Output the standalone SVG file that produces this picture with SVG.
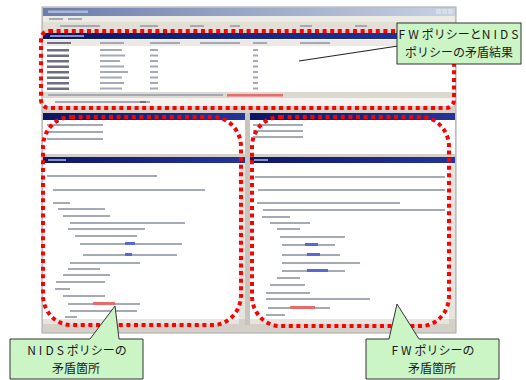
<svg xmlns="http://www.w3.org/2000/svg" width="526" height="380" viewBox="0 0 526 380">
<style>
.t{fill:#a4a9b6}
.d{fill:#6c7080}
.b{fill:#5a66d8}
.r{fill:#e86a6a}
.navy{fill:url(#navy)}
.hl{fill:none;stroke:#ff0000;stroke-width:4;stroke-dasharray:4 3.6}
.co{fill:#ccf5c6;stroke:#333;stroke-width:1}
.lbl{font-family:"Noto Sans CJK JP","Noto Sans",sans-serif;font-size:12px;fill:#1a1a1a;text-anchor:middle}
.sp{letter-spacing:3px}
</style>
<defs>
<linearGradient id="navy" x1="0" y1="0" x2="1" y2="0"><stop offset="0" stop-color="#0c1668"/><stop offset="1" stop-color="#24349a"/></linearGradient>
<linearGradient id="title" x1="0" y1="0" x2="1" y2="0"><stop offset="0" stop-color="#6a7cac"/><stop offset="1" stop-color="#c8d2e4"/></linearGradient>
</defs>
<rect width="526" height="380" fill="#fff"/>
<g id="screenshot">
<rect x="42" y="7" width="414" height="326" fill="#d4d0c8" stroke="#a8a8a8"/>
<rect x="43" y="8" width="412" height="8" fill="url(#title)"/>
<rect x="48" y="10.5" width="40" height="2.5" fill="#c8d0e4" opacity="0.7"/>
<rect x="436" y="9" width="5" height="5" fill="#d8dde8"/><rect x="442" y="9" width="5" height="5" fill="#d8dde8"/><rect x="448" y="9" width="5" height="5" fill="#d8dde8"/>
<rect x="43" y="16" width="412" height="6" fill="#ecebe4"/>
<rect x="49" y="18" width="14" height="2" class="t"/><rect x="68" y="18" width="14" height="2" class="t"/>
<rect x="43" y="22" width="412" height="8" fill="#e2dfd6"/>
<rect x="60" y="25" width="40" height="2" class="t"/><rect x="140" y="25" width="18" height="2" class="t"/><rect x="190" y="25" width="14" height="2" class="t"/><rect x="230" y="25" width="10" height="2" class="t"/><rect x="300" y="25" width="12" height="2" class="t"/><rect x="355" y="25" width="12" height="2" class="t"/>
<rect x="43" y="33" width="412" height="6" class="navy"/>
<rect x="50" y="35" width="34" height="2" fill="#8890c8"/>
<rect x="43" y="39" width="412" height="53" fill="#fff"/>
<rect x="43" y="40" width="412" height="6" fill="#ece9e2"/>
<rect x="47" y="42" width="24" height="2" class="d"/><rect x="100" y="42" width="24" height="2" class="t"/><rect x="150" y="42" width="30" height="2" class="t"/><rect x="200" y="42" width="40" height="2" class="t"/><rect x="253" y="42" width="14" height="2" class="t"/><rect x="300" y="42" width="30" height="2" class="t"/>
<g id="rows">
<rect x="47" y="49" width="22" height="2.5" class="d"/><rect x="100" y="49" width="22" height="2" class="t"/><rect x="150" y="49" width="8" height="2" class="t"/><rect x="253" y="49" width="5" height="2" class="t"/>
<rect x="47" y="54.5" width="22" height="2.5" class="d"/><rect x="100" y="54.5" width="25" height="2" class="t"/><rect x="150" y="54.5" width="8" height="2" class="t"/><rect x="253" y="54.5" width="5" height="2" class="t"/>
<rect x="47" y="60" width="22" height="2.5" class="d"/><rect x="100" y="60" width="20" height="2" class="t"/><rect x="150" y="60" width="8" height="2" class="t"/><rect x="253" y="60" width="5" height="2" class="t"/>
<rect x="47" y="65.5" width="22" height="2.5" class="d"/><rect x="100" y="65.5" width="24" height="2" class="t"/><rect x="150" y="65.5" width="8" height="2" class="t"/><rect x="253" y="65.5" width="5" height="2" class="t"/>
<rect x="47" y="71" width="22" height="2.5" class="d"/><rect x="100" y="71" width="28" height="2" class="t"/><rect x="150" y="71" width="8" height="2" class="t"/><rect x="253" y="71" width="5" height="2" class="t"/>
<rect x="47" y="76.5" width="22" height="2.5" class="d"/><rect x="100" y="76.5" width="22" height="2" class="t"/><rect x="150" y="76.5" width="8" height="2" class="t"/><rect x="253" y="76.5" width="5" height="2" class="t"/>
<rect x="47" y="82" width="22" height="2.5" class="d"/><rect x="100" y="82" width="24" height="2" class="t"/><rect x="150" y="82" width="8" height="2" class="t"/><rect x="253" y="82" width="5" height="2" class="t"/>
<rect x="47" y="87.5" width="22" height="2.5" class="d"/><rect x="100" y="87.5" width="22" height="2" class="t"/><rect x="150" y="87.5" width="8" height="2" class="t"/><rect x="253" y="87.5" width="5" height="2" class="t"/>
</g>
<rect x="43" y="92" width="412" height="6" fill="#dcd9d0"/>
<rect x="48" y="94" width="175" height="2" class="t"/><rect x="227" y="94" width="56" height="2.5" class="r"/>
<rect x="43" y="98" width="412" height="8" fill="#f4f3ef"/>
<rect x="55" y="101" width="95" height="2" class="t"/><rect x="140" y="101" width="6" height="2" class="d"/>
<rect x="43" y="113" width="202" height="7" class="navy"/>
<rect x="250" y="113" width="205" height="7" class="navy"/>
<rect x="245" y="113" width="5" height="212" fill="#c8c5bc"/>
<rect x="43" y="120" width="202" height="34" fill="#fff"/>
<rect x="250" y="120" width="205" height="34" fill="#fff"/>
<rect x="47" y="124" width="56" height="2" class="t"/><rect x="47" y="131" width="56" height="2" class="t"/><rect x="47" y="138" width="56" height="2" class="t"/>
<rect x="253" y="124" width="50" height="2" class="t"/><rect x="253" y="130" width="50" height="2" class="t"/><rect x="253" y="136" width="50" height="2" class="t"/>
<rect x="43" y="157" width="202" height="6" class="navy"/>
<rect x="250" y="157" width="205" height="6" class="navy"/>
<rect x="48" y="159" width="18" height="2" fill="#8890c8"/><rect x="254" y="159" width="14" height="2" fill="#8890c8"/>
<rect x="43" y="163" width="196" height="156" fill="#fff"/>
<rect x="250" y="163" width="199" height="156" fill="#fff"/>
<rect x="239" y="163" width="6" height="156" fill="#e6e4de"/>
<rect x="449" y="163" width="6" height="156" fill="#e6e4de"/>
<rect x="43" y="319" width="196" height="5" fill="#e6e4de"/>
<rect x="250" y="319" width="199" height="5" fill="#e6e4de"/>
<g id="code-left">
<rect x="47" y="175" width="110" height="2" class="t"/>
<rect x="53" y="189" width="152" height="2" class="t"/>
<rect x="53" y="202" width="17" height="2" class="t"/>
<rect x="58" y="208" width="47" height="2" class="t"/>
<rect x="63" y="215" width="47" height="2" class="t"/>
<rect x="70" y="222" width="115" height="2" class="t"/>
<rect x="68" y="228" width="77" height="2" class="t"/>
<rect x="75" y="235" width="62" height="2" class="t"/>
<rect x="80" y="243" width="102" height="2" class="t"/><rect x="125" y="242" width="10" height="3" class="b"/>
<rect x="83" y="254" width="94" height="2" class="t"/><rect x="125" y="253" width="7" height="3" class="b"/>
<rect x="70" y="262" width="70" height="2" class="t"/>
<rect x="68" y="268" width="32" height="2" class="t"/>
<rect x="63" y="274" width="47" height="2" class="t"/>
<rect x="56" y="281" width="49" height="2" class="t"/>
<rect x="55" y="288" width="15" height="2" class="t"/>
<rect x="63" y="295" width="42" height="2" class="t"/>
<rect x="68" y="303" width="72" height="2" class="t"/><rect x="93" y="302" width="22" height="3" class="r"/>
<rect x="70" y="310" width="67" height="2" class="t"/>
<rect x="65" y="316" width="12" height="2" class="t"/>
</g>
<g id="code-right">
<rect x="255" y="176" width="190" height="2" class="t"/>
<rect x="258" y="189" width="187" height="2" class="t"/>
<rect x="257" y="202" width="143" height="2" class="t"/>
<rect x="263" y="209" width="182" height="2" class="t"/>
<rect x="262" y="216" width="28" height="2" class="t"/>
<rect x="270" y="222" width="40" height="2" class="t"/>
<rect x="277" y="228" width="23" height="2" class="t"/>
<rect x="280" y="236" width="65" height="2" class="t"/>
<rect x="282" y="244" width="53" height="2" class="t"/><rect x="305" y="243" width="13" height="3" class="b"/>
<rect x="282" y="254" width="58" height="2" class="t"/><rect x="307" y="253" width="13" height="3" class="b"/>
<rect x="282" y="262" width="78" height="2" class="t"/>
<rect x="282" y="270" width="63" height="2" class="t"/><rect x="307" y="269" width="21" height="3" class="b"/>
<rect x="277" y="277" width="23" height="2" class="t"/>
<rect x="270" y="284" width="35" height="2" class="t"/>
<rect x="266" y="292" width="44" height="2" class="t"/>
<rect x="266" y="298" width="104" height="2" class="t"/>
<rect x="268" y="307" width="62" height="2" class="t"/><rect x="290" y="306" width="25" height="3" class="r"/>
<rect x="266" y="314" width="19" height="2" class="t"/>
</g>
<rect x="43" y="325" width="412" height="7" fill="#d4d0c8"/>
</g>
<g id="highlights">
<rect id="hl-result" class="hl" x="41" y="31" width="413" height="77" rx="8"/>
<rect id="hl-nids" class="hl" x="43" y="117" width="198" height="208" rx="28" ry="30"/>
<rect id="hl-fw" class="hl" x="252" y="117" width="197" height="209" rx="28" ry="30"/>
</g>
<g id="connectors">
<line x1="398" y1="46" x2="299" y2="61" stroke="#222" stroke-width="1.2"/>
</g>
<g id="callout-result">
<rect class="co" x="397" y="23" width="124" height="41"/>
<text class="lbl" x="460" y="39"><tspan class="sp">FW</tspan>ポリシーと<tspan class="sp">NIDS</tspan></text>
<text class="lbl" x="459" y="57">ポリシーの矛盾結果</text>
</g>
<g id="callout-nids">
<path class="co" d="M10,339 H90 L115,306 L119,339 H143 V379 H10 Z"/>
<text class="lbl" x="77" y="355"><tspan class="sp">NIDS</tspan>ポリシーの</text>
<text class="lbl" x="76" y="373">矛盾箇所</text>
</g>
<g id="callout-fw">
<path class="co" d="M366,339 H389 L397,304 L419,339 H499 V379 H366 Z"/>
<text class="lbl" x="433" y="355"><tspan class="sp">FW</tspan>ポリシーの</text>
<text class="lbl" x="432" y="373">矛盾箇所</text>
</g>
</svg>
